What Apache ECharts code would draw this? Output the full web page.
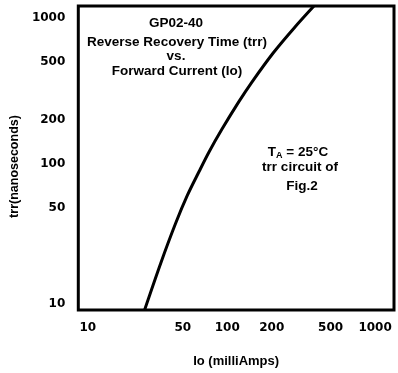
<!DOCTYPE html>
<html>
<head>
<meta charset="utf-8">
<script src="https://cdn.jsdelivr.net/npm/echarts@6/dist/echarts.min.js"></script>
<style>
html,body{margin:0;padding:0;background:#fff;}
#chart{width:398px;height:373px;}
</style>
</head>
<body>
<div id="chart"></div>
<script>
// Data (Io in mA, trr in ns)
const ioValues  = [27.6, 35.5, 44.7, 53.7, 64.5, 75.3, 92.0, 119.6, 146.1, 205.1, 283.6, 385.9];
const trrValues = [10.0, 20.9, 39.0, 60.7, 88.5, 120.4, 172.0, 265.0, 359.4, 574.6, 849.6, 1199];
const xTickValues = [10, 50, 100, 200, 500, 1000];
const yTickValues = [10, 50, 100, 200, 500, 1000];
const titleLines = ['GP02-40', 'Reverse Recovery Time (trr)', 'vs.', 'Forward Current (Io)'];
const noteLines = ['trr circuit of', 'Fig.2'];
const xName = 'Io (milliAmps)';
const yName = 'trr(nanoseconds)';

const lg = Math.log10;
const fmt = v => String(Math.round(Math.pow(10, v)));
const FONT = '"Liberation Sans", Arial, sans-serif';
const TICKFONT = '"DejaVu Sans", sans-serif';
const TF = 'bold 13.5px ' + FONT;

const chart = echarts.init(document.getElementById('chart'), null, {renderer: 'canvas'});
chart.setOption({
  animation: false,
  backgroundColor: '#fff',
  grid: {left: 75, right: 4, top: 6, bottom: 60, show: true, borderColor: '#000', borderWidth: 3, backgroundColor: 'transparent'},
  xAxis: {
    type: 'value', min: 0.9926, max: 3.128,
    axisLine: {show: false}, axisTick: {show: false}, splitLine: {show: false},
    axisLabel: {
      customValues: xTickValues.map(lg), formatter: fmt, alignMinLabel: 'left',
      margin: 12, color: '#000', fontFamily: TICKFONT, fontWeight: 'bold', fontSize: 12
    },
    name: xName, nameLocation: 'middle', nameGap: 45,
    nameTextStyle: {color: '#000', fontFamily: FONT, fontSize: 13, fontWeight: 'bold'}
  },
  yAxis: {
    type: 'value', min: 1, max: 3.079,
    axisLine: {show: false}, axisTick: {show: false}, splitLine: {show: false},
    axisLabel: {
      customValues: yTickValues.map(lg), formatter: fmt, verticalAlignMinLabel: 'bottom',
      margin: 13, color: '#000', fontFamily: TICKFONT, fontWeight: 'bold', fontSize: 12
    },
    name: yName, nameLocation: 'middle', nameGap: 56, nameRotate: 90,
    nameTextStyle: {color: '#000', fontFamily: FONT, fontSize: 12.5, fontWeight: 'bold', padding: [0, 17, 0, 0]}
  },
  series: [{
    type: 'line',
    data: ioValues.map((x, i) => [lg(x), lg(trrValues[i])]),
    showSymbol: false, smooth: 0.3, clip: true,
    lineStyle: {color: '#000', width: 3}
  }],
  graphic: [
    {type: 'text', x: 176, y: 23, style: {text: titleLines[0], font: TF, fill: '#000', align: 'center', verticalAlign: 'middle'}},
    {type: 'text', x: 177, y: 42, style: {text: titleLines[1], font: TF, fill: '#000', align: 'center', verticalAlign: 'middle'}},
    {type: 'text', x: 176, y: 56, style: {text: titleLines[2], font: TF, fill: '#000', align: 'center', verticalAlign: 'middle'}},
    {type: 'text', x: 177, y: 71, style: {text: titleLines[3], font: TF, fill: '#000', align: 'center', verticalAlign: 'middle'}},
    {type: 'text', x: 298, y: 152, style: {
      text: '{t|T}{s|A}{t| = 25°C}', align: 'center', verticalAlign: 'middle',
      rich: {
        t: {font: TF, fill: '#000', lineHeight: 16},
        s: {font: 'bold 9px ' + FONT, fill: '#000', lineHeight: 16, verticalAlign: 'bottom', padding: [5, 0, 0, 0]}
      }
    }},
    {type: 'text', x: 300, y: 167, style: {text: noteLines[0], font: TF, fill: '#000', align: 'center', verticalAlign: 'middle'}},
    {type: 'text', x: 302, y: 186, style: {text: noteLines[1], font: TF, fill: '#000', align: 'center', verticalAlign: 'middle'}}
  ]
});
</script>
</body>
</html>
